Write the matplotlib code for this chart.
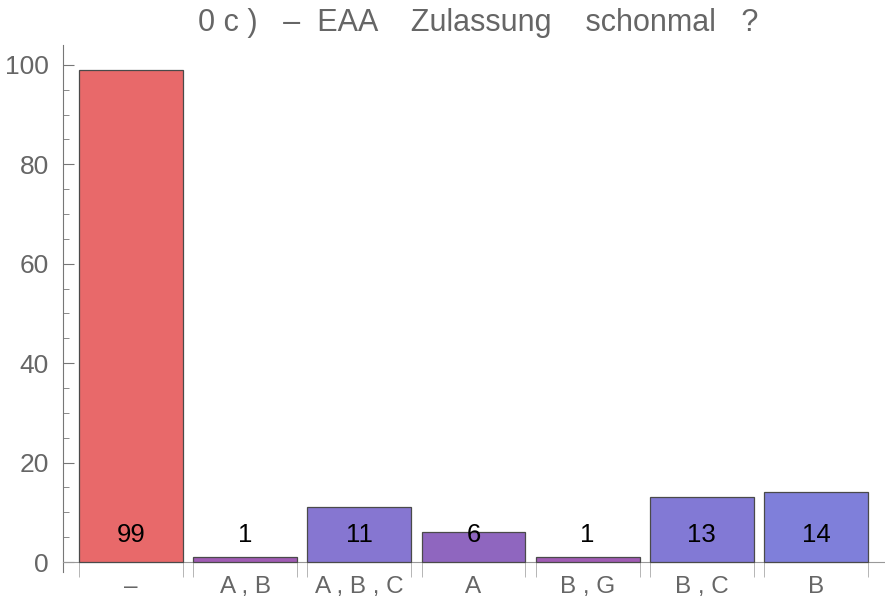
import matplotlib
matplotlib.use("Agg")
import matplotlib.pyplot as plt
import numpy as np

categories = ["\u2013", "A , B", "A , B , C", "A", "B , G", "B , C", "B"]
values = [99, 1, 11, 6, 1, 13, 14]
colors = ["#E8696A", "#A05CB4", "#8676D1", "#8F66BF", "#A05CB4", "#8279D5", "#7F7FDA"]
title = "0 c )   \u2013  EAA    Zulassung    schonmal   ?"
yticks = [0, 20, 40, 60, 80, 100]

plt.rcParams['font.family'] = ['Liberation Sans', 'DejaVu Sans']
fig = plt.figure(figsize=(8.85, 6.0), dpi=100)
ax = fig.add_axes([63/885, 1-572/600, 1-63/885, (572-45)/600])

x = np.arange(len(values))
w = 0.91
ax.bar(x, values, width=w, color=colors, edgecolor="#4a4a4a", linewidth=0.9, zorder=3)
for xi, v in zip(x, values):
    ax.text(xi, 5.4, str(v), ha="center", va="center", fontsize=18.5, color="black", zorder=4)

ax.set_xlim(-0.595, 6.604)
ax.set_ylim(-2, 104)
gray = "#777777"
ax.spines['top'].set_visible(False)
ax.spines['right'].set_visible(False)
ax.spines['bottom'].set_position(('data', 0))
ax.spines['bottom'].set_color("#999999")
ax.spines['left'].set_color(gray)

ax.set_yticks(yticks)
ax.set_yticks(np.arange(0, 101, 5), minor=True)
ax.tick_params(axis='y', which='major', direction='in', length=8, color=gray,
               labelsize=19, labelcolor="#666666", pad=10)
ax.tick_params(axis='y', which='minor', direction='in', length=4.5, color=gray)

ax.set_xticks(x)
ax.set_xticklabels(categories)
edges = np.concatenate([x - w/2, x + w/2])
ax.set_xticks(edges, minor=True)
ax.tick_params(axis='x', which='major', length=0, labelsize=17.5, labelcolor="#666666", pad=10)
ax.tick_params(axis='x', which='minor', direction='out', length=11, color="#aaaaaa")

fig.text(478/885, 1-23/600, title, ha="center", va="center", fontsize=22, color="#666666")

fig.savefig("out.png", dpi=100)
